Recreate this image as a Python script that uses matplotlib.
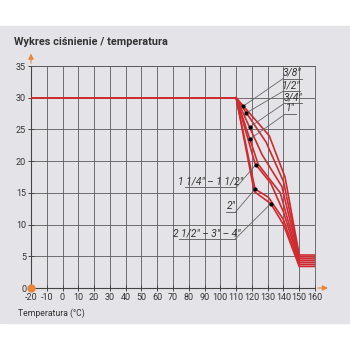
import numpy as np
import matplotlib
matplotlib.use("Agg")
import matplotlib.pyplot as plt
from matplotlib.patches import Rectangle

plt.rcParams['font.family'] = ['Roboto', 'DejaVu Sans']
plt.rcParams['axes.unicode_minus'] = False

# flat part shared by all sizes
flat_t = [-20, 110]
flat_p = [30, 30]

sizes = ['3/8"', '1/2"', '3/4"', '1"', '1 1/4" – 1 1/2"', '2"', '2 1/2" – 3" – 4"']

t_38 = [110, 131, 141, 150, 160]
p_38 = [30, 24.0, 17.5, 5.2, 5.2]
t_12 = [110, 129, 140, 150, 160]
p_12 = [30, 23.0, 16.8, 4.9, 4.9]
t_34 = [110, 126.5, 139, 150, 160]
p_34 = [30, 21.0, 16.0, 4.6, 4.6]
t_1 = [110, 124, 138, 150, 160]
p_1 = [30, 19.5, 15.0, 4.3, 4.3]
t_114 = [110, 122, 132, 140, 150, 160]
p_114 = [30, 19.6, 16.5, 12.0, 4.0, 4.0]
t_2 = [110, 122, 130.5, 140, 150, 160]
p_2 = [30, 15.6, 14.3, 10.8, 3.7, 3.7]
t_212 = [110, 121.5, 132, 140, 150, 160]
p_212 = [30, 15.2, 13.3, 10.0, 3.4, 3.4]

curves_t = [t_38, t_12, t_34, t_1, t_114, t_2, t_212]
curves_p = [p_38, p_12, p_34, p_1, p_114, p_2, p_212]

# where the label points sit on each curve (temperature)
dot_t = [114.6, 116.5, 118.5, 118.7, 122.5, 122, 132]

# label underline: x-start, x-end, y  (data units)
lab_x0 = [139.7, 139.7, 140.5, 141, 77.6, 103.6, 74]
lab_x1 = [151.7, 150.5, 151.5, 148, 110, 109.7, 109.3]
lab_y = [33.0, 31.0, 29.1, 27.4, 15.85, 12.0, 7.7]
lab_side = ['left', 'left', 'left', 'left', 'right', 'right', 'right']

red = '#cf2a2f'
orange = '#e8863a'
grid_c = '#5a5a5a'
txt = '#333333'

fig = plt.figure(figsize=(3.5, 3.5), dpi=100)
fig.patches.append(Rectangle((0, 1 - 323 / 350), 1, 297 / 350, transform=fig.transFigure,
                             color='#e4e4e8', zorder=-5))

ax = fig.add_axes([31 / 350, 1 - 288 / 350, 284 / 350, 222 / 350])
ax.set_facecolor('none')
ax.set_xlim(-20, 160)
ax.set_ylim(0, 35)
ax.set_xticks(range(-20, 161, 10))
ax.set_yticks(range(0, 36, 5))
ax.grid(color=grid_c, lw=0.6)
for s in ax.spines.values():
    s.set_color(grid_c)
    s.set_linewidth(0.6)
ax.spines['left'].set_color('#444')
ax.spines['bottom'].set_color('#444')
ax.spines['left'].set_linewidth(0.8)
ax.spines['bottom'].set_linewidth(0.8)
ax.tick_params(direction='inout', length=5, width=0.7, color='#444',
               labelsize=6.5, labelcolor=txt, pad=1)

# curves
ax.plot(flat_t, flat_p, color=red, lw=1.4, zorder=3)
for t, p in zip(curves_t, curves_p):
    ax.plot(t, p, color=red, lw=1.2, zorder=3, solid_joinstyle='miter')

# labels with leader lines
for i in range(len(sizes)):
    dx = dot_t[i]
    dy = np.interp(dx, curves_t[i], curves_p[i])
    ax.plot(dx, dy, 'o', color='black', ms=2, zorder=5)
    ax.plot([lab_x0[i], lab_x1[i]], [lab_y[i], lab_y[i]], color='#555', lw=0.6, zorder=4)
    end = lab_x0[i] if lab_side[i] == 'left' else lab_x1[i]
    ax.plot([dx, end], [dy, lab_y[i]], color='#666', lw=0.6, zorder=4)
    ax.text((lab_x0[i] + lab_x1[i]) / 2, lab_y[i] + 0.15, sizes[i], ha='center', va='bottom',
            fontsize=7.4, style='italic', color=txt, zorder=6)

# axis arrows and origin dot
ax.annotate('', xy=(170, 0), xytext=(160, 0), annotation_clip=False,
            arrowprops=dict(arrowstyle='-|>', color=orange, lw=0.8, mutation_scale=8))
ax.annotate('', xy=(-20, 37.4), xytext=(-20, 35), annotation_clip=False,
            arrowprops=dict(arrowstyle='-|>', color=orange, lw=0.8, mutation_scale=8))
ax.plot(-20, 0, 'o', color=orange, ms=5, clip_on=False, zorder=6)

fig.text(14 / 350, 1 - 42 / 350, 'Wykres ciśnienie / temperatura', fontsize=7.8,
         fontweight='bold', color=txt, va='center', ha='left')
fig.text(18 / 350, 1 - 313 / 350, 'Temperatura (°C)', fontsize=6.2, color=txt,
         va='center', ha='left')

fig.savefig('out.png', dpi=100)
